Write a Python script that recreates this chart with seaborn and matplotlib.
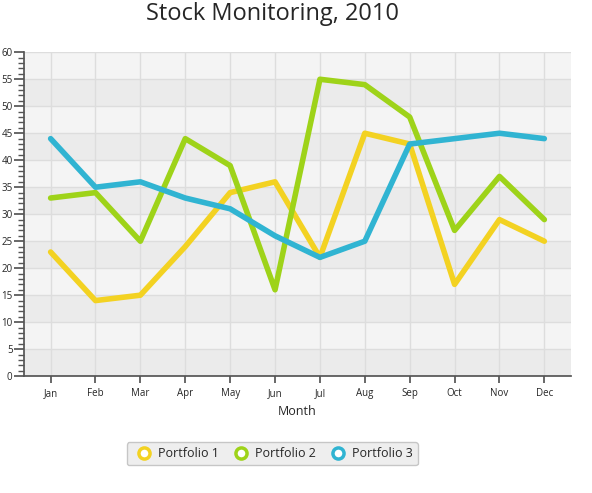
import matplotlib
matplotlib.use("Agg")
import matplotlib.pyplot as plt
import seaborn as sns
import pandas as pd
from matplotlib.ticker import MultipleLocator
from matplotlib.lines import Line2D

months = ["Jan","Feb","Mar","Apr","May","Jun","Jul","Aug","Sep","Oct","Nov","Dec"]
p1 = [23, 14, 15, 24, 34, 36, 22, 45, 43, 17, 29, 25]
p2 = [33, 34, 25, 44, 39, 16, 55, 54, 48, 27, 37, 29]
p3 = [44, 35, 36, 33, 31, 26, 22, 25, 43, 44, 45, 44]
names = ["Portfolio 1", "Portfolio 2", "Portfolio 3"]
colors = ["#f3d222", "#9ed319", "#30b4d2"]

sns.set_theme(style="white")
plt.rcParams['font.family'] = ['Open Sans', 'DejaVu Sans']
df = pd.DataFrame({"Month": months * 3, "Value": p1 + p2 + p3,
                   "Series": sum([[n] * 12 for n in names], [])})
df["x"] = list(range(12)) * 3

fig = plt.figure(figsize=(5.92, 4.93), dpi=100)
ax = fig.add_axes([0.040, 0.237, 0.925, 0.657])
for i in range(12):
    ax.axhspan(i * 5, i * 5 + 5, color="#ebebeb" if i % 2 == 0 else "#f4f4f4", zorder=0, lw=0)
sns.lineplot(data=df, x="x", y="Value", hue="Series", palette=colors, lw=4, ax=ax,
             legend=False, zorder=3)
ax.set_xlim(-0.6, 11.6)
ax.set_ylim(0, 60)
ax.set_xticks(range(12))
ax.set_xticklabels(months, fontsize=7)
ax.yaxis.set_major_locator(MultipleLocator(5))
ax.yaxis.set_minor_locator(MultipleLocator(1))
ax.tick_params(axis="y", which="major", length=7, labelsize=7, color="#555", pad=1, left=True)
ax.tick_params(axis="y", which="minor", length=4, color="#555", left=True)
ax.tick_params(axis="x", length=5, color="#555", bottom=True, labelsize=7)
ax.grid(True, color="#dddddd", lw=1, zorder=1)
ax.set_axisbelow(True)
for s in ["top", "right"]:
    ax.spines[s].set_visible(False)
for s in ["left", "bottom"]:
    ax.spines[s].set_color("#555")
ax.set_xlabel("Month", fontsize=9)
ax.set_ylabel("")
fig.suptitle("Stock Monitoring, 2010", fontsize=17, x=0.46, y=0.995)
handles = [Line2D([], [], marker="o", ls="", markerfacecolor="white", markeredgecolor=c,
                  markeredgewidth=2.5, markersize=8) for c in colors]
leg = fig.legend(handles, names, loc="center", bbox_to_anchor=(0.46, 0.08), ncol=3,
                 frameon=True, fontsize=9, handletextpad=0.1, columnspacing=0.8,
                 fancybox=True)
leg.get_frame().set_facecolor("#eaeaea")
leg.get_frame().set_edgecolor("#bbbbbb")
fig.savefig("out.png", dpi=100)
